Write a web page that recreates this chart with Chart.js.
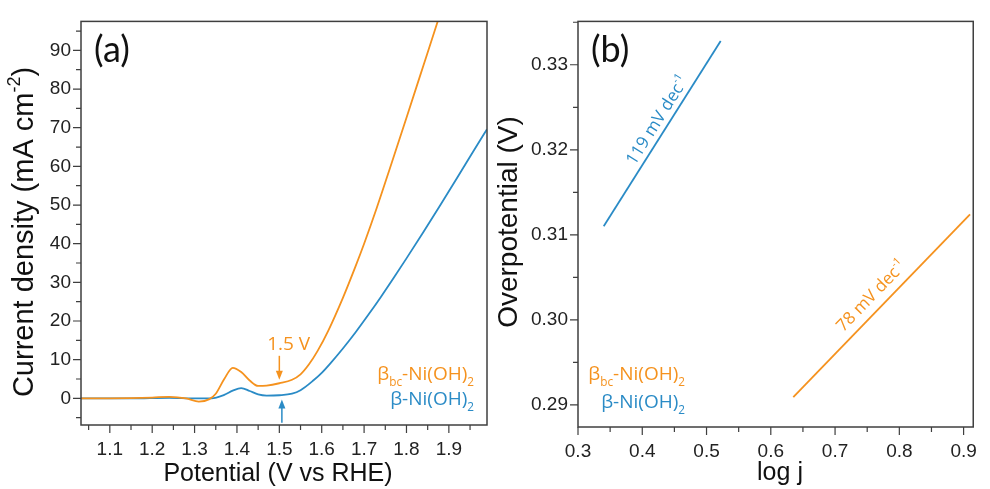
<!DOCTYPE html>
<html>
<head>
<meta charset="utf-8">
<script src="https://cdn.jsdelivr.net/npm/chart.js@4.4.0/dist/chart.umd.min.js"></script>
<style>
html, body { margin: 0; padding: 0; background: #fff; }
#wrap { position: relative; width: 990px; height: 489px; }
canvas { position: absolute; top: 0; }
</style>
</head>
<body>
<div id="wrap">
  <canvas id="ca" width="495" height="489" style="left:0"></canvas>
  <canvas id="cb" width="495" height="489" style="left:495px"></canvas>
</div>
<script>
// (a) polarisation curves, potential (V vs RHE) / current density (mA cm-2)
var potBc = [1.03, 1.10, 1.15, 1.20, 1.24, 1.28, 1.31, 1.335, 1.35, 1.37, 1.39, 1.41, 1.43, 1.45, 1.47, 1.50, 1.53, 1.55, 1.57, 1.59, 1.615, 1.65, 1.68, 1.70, 1.73, 1.76, 1.80, 1.84, 1.874, 1.90];
var curBc = [0, 0, 0.05, 0.2, 0.4, 0, -0.85, -0.2, 1.2, 5.0, 7.9, 6.8, 4.6, 3.2, 3.3, 3.9, 4.8, 6.2, 8.8, 12.2, 17.4, 26, 34.2, 40.0, 49.3, 59.2, 72.6, 86.1, 97.6, 106.5];
var potB = [1.03, 1.15, 1.24, 1.30, 1.34, 1.37, 1.39, 1.41, 1.43, 1.45, 1.47, 1.50, 1.53, 1.55, 1.58, 1.60, 1.62, 1.65, 1.68, 1.71, 1.74, 1.77, 1.80, 1.84, 1.88, 1.92, 1.96, 1.99];
var curB = [0, 0, 0.15, 0, 0, 0.9, 2.0, 2.65, 1.9, 1.0, 0.7, 0.8, 1.2, 2.1, 4.6, 6.6, 9.0, 12.9, 17.1, 21.6, 26.3, 31.2, 36.2, 43.0, 50.0, 57.1, 64.3, 69.6];

// (b) Tafel fits, log j / overpotential (V)
var logjB = [0.34, 0.522];
var etaB = [0.3110, 0.3328];
var logjBc = [0.635, 0.91];
var etaBc = [0.2909, 0.3124];

// tick labels
var xTicksA = [1.1, 1.2, 1.3, 1.4, 1.5, 1.6, 1.7, 1.8, 1.9];
var xLabelsA = ['1.1', '1.2', '1.3', '1.4', '1.5', '1.6', '1.7', '1.8', '1.9'];
var yTicksA = [0, 10, 20, 30, 40, 50, 60, 70, 80, 90];
var yLabelsA = ['0', '10', '20', '30', '40', '50', '60', '70', '80', '90'];
var xTicksB = [0.3, 0.4, 0.5, 0.6, 0.7, 0.8, 0.9];
var xLabelsB = ['0.3', '0.4', '0.5', '0.6', '0.7', '0.8', '0.9'];
var yTicksB = [0.29, 0.30, 0.31, 0.32, 0.33];
var yLabelsB = ['0.29', '0.30', '0.31', '0.32', '0.33'];

var ORANGE = '#f5921e';
var BLUE = '#2a8bc6';
var AXIS = '#3f3f3f';
var SANS = '"Liberation Sans", Arial, sans-serif';
var HUM = '"Open Sans", Lato, sans-serif';
var PANEL = 'Lato, "Open Sans", sans-serif';

function pts(xs, ys) {
	return xs.map(function (x, i) { return { x: x, y: ys[i] }; });
}

function minors(from, to, step) {
	var out = [];
	for (var v = from; v <= to + 1e-9; v += step) out.push(+v.toFixed(4));
	return out;
}

function axis(min, max, ticks, labels, size, pad, isX) {
	return {
		type: 'linear', min: min, max: max,
		grid: { display: false, drawTicks: false },
		border: { display: false },
		afterBuildTicks: function (s) { s.ticks = ticks.map(function (v) { return { value: v }; }); },
		afterFit: function (s) { if (isX) s.height = size; else s.width = size; },
		ticks: {
			padding: pad, color: '#222', autoSkip: false, maxRotation: 0,
			font: { family: SANS, size: 19 },
			callback: function (v, i) { return labels[i]; }
		}
	};
}

// text with sub/superscripts: parts = [[text, 'n'|'sub'|'sup'], ...]
function rich(c, parts, x, y, size, align, family) {
	var w = 0;
	parts.forEach(function (p) {
		c.font = (p[1] === 'n' ? size : size * 0.62) + 'px ' + family;
		w += c.measureText(p[0]).width;
	});
	var cx = align === 'right' ? x - w : (align === 'center' ? x - w / 2 : x);
	c.textAlign = 'left';
	parts.forEach(function (p) {
		var s = p[1] === 'n' ? size : size * 0.62;
		var dy = p[1] === 'sub' ? size * 0.3 : (p[1] === 'sup' ? -size * 0.45 : 0);
		c.font = s + 'px ' + family;
		c.fillText(p[0], cx, y + dy);
		cx += c.measureText(p[0]).width;
	});
}

function frame(chart, o) {
	var c = chart.ctx, a = chart.chartArea, sx = chart.scales.x, sy = chart.scales.y;
	c.save();
	c.strokeStyle = AXIS;
	c.lineWidth = 1.5;
	c.strokeRect(a.left, a.top, a.right - a.left, a.bottom - a.top);
	c.lineWidth = 1.2;
	c.beginPath();
	o.xMajor.forEach(function (v) { var p = sx.getPixelForValue(v); c.moveTo(p, a.bottom); c.lineTo(p, a.bottom + 8); });
	o.xMinor.forEach(function (v) { var p = sx.getPixelForValue(v); if (p < a.left || p > a.right) return; c.moveTo(p, a.bottom); c.lineTo(p, a.bottom + 5); });
	o.yMajor.forEach(function (v) { var p = sy.getPixelForValue(v); c.moveTo(a.left, p); c.lineTo(a.left - 8, p); });
	o.yMinor.forEach(function (v) { var p = sy.getPixelForValue(v); if (p < a.top || p > a.bottom) return; c.moveTo(a.left, p); c.lineTo(a.left - 5, p); });
	c.stroke();
	c.restore();
}

function arrow(c, x, y0, y1, color) {
	var dir = y1 > y0 ? 1 : -1;
	c.strokeStyle = color; c.fillStyle = color; c.lineWidth = 1.5;
	c.beginPath(); c.moveTo(x, y0); c.lineTo(x, y1 - dir * 6); c.stroke();
	c.beginPath(); c.moveTo(x, y1); c.lineTo(x - 3.5, y1 - dir * 9); c.lineTo(x + 3.5, y1 - dir * 9); c.closePath(); c.fill();
}

function slopeLabel(chart, xs, ys, t, off, parts, color) {
	var c = chart.ctx, sx = chart.scales.x, sy = chart.scales.y;
	var x1 = sx.getPixelForValue(xs[0]), y1 = sy.getPixelForValue(ys[0]);
	var x2 = sx.getPixelForValue(xs[1]), y2 = sy.getPixelForValue(ys[1]);
	var ang = Math.atan2(y2 - y1, x2 - x1);
	var px = x1 + t * (x2 - x1) + Math.sin(ang) * off;
	var py = y1 + t * (y2 - y1) - Math.cos(ang) * off;
	c.save();
	c.translate(px, py);
	c.rotate(ang);
	c.fillStyle = color;
	c.textBaseline = 'alphabetic';
	rich(c, parts, 0, 0, 17, 'center', HUM);
	c.restore();
}

var decorA = {
	id: 'decorA',
	afterDraw: function (chart) {
		var c = chart.ctx, sx = chart.scales.x, sy = chart.scales.y;
		frame(chart, { xMajor: xTicksA, xMinor: minors(1.05, 1.95, 0.1), yMajor: yTicksA, yMinor: minors(-5, 95, 10) });
		c.save();
		c.textBaseline = 'alphabetic';
		c.fillStyle = '#111';
		c.font = '36px ' + PANEL;
		c.fillText('(a)', 94, 62);
		c.textAlign = 'center';
		c.font = '25px ' + SANS;
		c.fillText('Potential (V vs RHE)', 278, 481);
		c.save();
		c.translate(33, 232);
		c.rotate(-Math.PI / 2);
		rich(c, [['Current density (mA cm', 'n'], ['-2', 'sup'], [')', 'n']], 0, 0, 29, 'center', SANS);
		c.restore();
		// labels and markers
		c.fillStyle = ORANGE;
		rich(c, [['β', 'n'], ['bc', 'sub'], ['-Ni(OH)', 'n'], ['2', 'sub']], 474, 380, 19, 'right', HUM);
		rich(c, [['1.5 V', 'n']], sx.getPixelForValue(1.522), 350, 19, 'center', HUM);
		c.fillStyle = BLUE;
		rich(c, [['β-Ni(OH)', 'n'], ['2', 'sub']], 474, 405, 19, 'right', HUM);
		arrow(c, sx.getPixelForValue(1.5), sy.getPixelForValue(11), sy.getPixelForValue(4.8), ORANGE);
		arrow(c, sx.getPixelForValue(1.506), sy.getPixelForValue(-6.3), sy.getPixelForValue(-0.3), BLUE);
		c.restore();
	}
};

var decorB = {
	id: 'decorB',
	afterDraw: function (chart) {
		var c = chart.ctx;
		frame(chart, { xMajor: xTicksB, xMinor: minors(0.35, 0.95, 0.1), yMajor: yTicksB, yMinor: minors(0.295, 0.335, 0.01) });
		c.save();
		c.textBaseline = 'alphabetic';
		c.fillStyle = '#111';
		c.font = '36px ' + PANEL;
		c.fillText('(b)', 96, 62);
		c.textAlign = 'center';
		c.font = '25px ' + SANS;
		c.fillText('log j', 285, 480);
		c.save();
		c.translate(22, 222);
		c.rotate(-Math.PI / 2);
		rich(c, [['Overpotential (V)', 'n']], 0, 0, 28, 'center', SANS);
		c.restore();
		c.fillStyle = ORANGE;
		rich(c, [['β', 'n'], ['bc', 'sub'], ['-Ni(OH)', 'n'], ['2', 'sub']], 190, 380, 19, 'right', HUM);
		c.fillStyle = BLUE;
		rich(c, [['β-Ni(OH)', 'n'], ['2', 'sub']], 190, 408, 19, 'right', HUM);
		c.restore();
		slopeLabel(chart, logjB, etaB, 0.54, 6, [['119 mV dec', 'n'], ['-1', 'sup']], BLUE);
		slopeLabel(chart, logjBc, etaBc, 0.5, 9, [['78 mV dec', 'n'], ['-1', 'sup']], ORANGE);
	}
};

function lineSet(data, color, smooth) {
	return {
		data: data, borderColor: color, borderWidth: 1.8, pointRadius: 0, fill: false, clip: 0,
		cubicInterpolationMode: smooth ? 'monotone' : 'default', tension: 0
	};
}

var common = {
	responsive: false, animation: false,
	layout: { padding: { left: 0, top: 18, right: 8, bottom: 0 } },
	plugins: { legend: { display: false }, tooltip: { enabled: false } }
};

new Chart(document.getElementById('ca'), {
	type: 'line',
	data: { datasets: [lineSet(pts(potBc, curBc), ORANGE, true), lineSet(pts(potB, curB), BLUE, true)] },
	options: Object.assign({}, common, {
		scales: {
			x: axis(1.032, 1.99, xTicksA, xLabelsA, 64, 13, true),
			y: axis(-6.9, 97.5, yTicksA, yLabelsA, 81, 10, false)
		}
	}),
	plugins: [decorA]
});

new Chart(document.getElementById('cb'), {
	type: 'line',
	data: { datasets: [lineSet(pts(logjB, etaB), BLUE, false), lineSet(pts(logjBc, etaBc), ORANGE, false)] },
	options: Object.assign({}, common, {
		scales: {
			x: axis(0.3, 0.915, xTicksB, xLabelsB, 62, 13, true),
			y: axis(0.2874, 0.3351, yTicksB, yLabelsB, 83, 10, false)
		}
	}),
	plugins: [decorB]
});
</script>
</body>
</html>
